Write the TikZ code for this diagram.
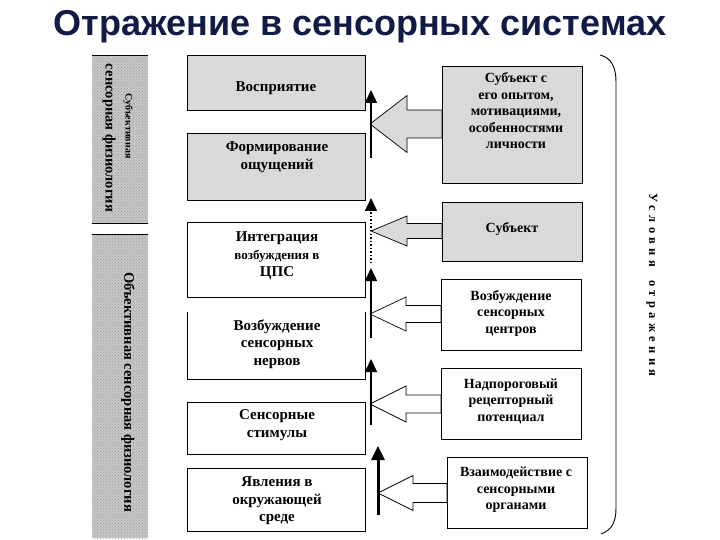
\documentclass[tikz,border=0pt]{standalone}
\usepackage{fontspec}
\setmainfont{Liberation Serif}
\newfontfamily\titlefont{Liberation Sans}
\usetikzlibrary{arrows.meta,patterns,calc}
\definecolor{titleblue}{RGB}{18,26,70}
\definecolor{boxgray}{RGB}{217,217,217}
\newcommand\blockarr[6]{%
 \draw[barrow,fill=#6] (#1) -- ++(#5,-#3) -- ++(0,{#3-#4}) -- ($(#1 -| #2.west)+(0,-#4)$) -- ($(#1 -| #2.west)+(0,#4)$) -- ($(#1)+(#5,#4)$) -- ($(#1)+(#5,#3)$) -- cycle;}
\begin{document}
\begin{tikzpicture}[x=1pt,y=-1pt,
  lbox/.style={draw=black,line width=0.8pt,anchor=north west,minimum width=178pt,inner sep=0pt},
  rbox/.style={draw=black,line width=0.8pt,anchor=north west,minimum width=140pt,inner sep=0pt},
  ltext/.style={align=center,font=\bfseries\fontsize{15}{17.5}\selectfont,inner sep=0pt},
  rtext/.style={align=center,font=\bfseries\fontsize{14}{16.5}\selectfont,inner sep=0pt},
  barrow/.style={draw=black,line width=0.7pt,line join=miter},
  varrow/.style={line width=1.5pt,-{Triangle[length=13pt,width=12pt]}},
  band/.style={fill=black!22,postaction={pattern=crosshatch dots,pattern color=black!40}},
  bandtext/.style={rotate=-90,font=\bfseries,inner sep=0pt}]
\useasboundingbox (0,0) rectangle (720,540);
\fill[white] (0,0) rectangle (720,540);

% title
\node[font=\titlefont\bfseries\fontsize{36}{40}\selectfont,text=titleblue] (title) at (360,27) {Отражение в сенсорных системах};

% left bands
\path[band] (92,55) rectangle (148,223);
\path[band] (92,234) rectangle (148,538);
\coordinate (bt1) at (92,55); \coordinate (bt2) at (148,55);
\coordinate (bb1) at (92,223); \coordinate (bb2) at (148,223);
\coordinate (bl1) at (92,234); \coordinate (bl2) at (148,234);
\draw[line width=0.8pt] (bt1) -- (bt2);
\draw[line width=0.8pt] (bb1) -- (bb2);
\draw[line width=0.8pt] (bl1) -- (bl2);
\node[bandtext,font=\bfseries\fontsize{10}{12}\selectfont] (sub1) at (128,126) {Субъективная};
\node[bandtext,font=\bfseries\fontsize{14.5}{16}\selectfont] (sub2) at (109,138) {сенсорная физиология};
\node[bandtext,font=\bfseries\fontsize{14.5}{16}\selectfont] (obj) at (128,392) {Объективная сенсорная физиология};

% left boxes
\node[lbox,fill=boxgray,minimum height=55pt] (b1) at (187,55) {};
\node[lbox,fill=boxgray,minimum height=67pt] (b2) at (187,133) {};
\node[lbox,minimum height=75pt] (b3) at (187,222) {};
\node[lbox,draw=none,minimum height=67pt] (b4) at (187,312) {};
\draw[line width=0.8pt] (b4.north west) -- (b4.south west) -- (b4.south east) -- (b4.north east);
\node[lbox,minimum height=52pt] (b5) at (187,402) {};
\node[lbox,minimum height=63pt] (b6) at (187,468) {};

\node[ltext] (t1) at (276,88) {Восприятие};
\node[ltext] (t2) at (277,157) {Формирование\\ощущений};
\node[ltext] (t3) at (277,256) {Интеграция\\{\fontsize{13}{17.5}\selectfont возбуждения в}\\ЦПС};
\node[ltext] (t4) at (277,344) {Возбуждение\\сенсорных\\нервов};
\node[ltext] (t5) at (277,425) {Сенсорные\\стимулы};
\node[ltext] (t6) at (277,501) {Явления в\\окружающей\\среде};

% right boxes
\node[rbox,fill=boxgray,minimum height=117pt] (r1) at (442,66) {};
\node[rbox,fill=boxgray,minimum height=59pt] (r2) at (442,202) {};
\node[rbox,minimum height=71pt] (r3) at (441,279) {};
\node[rbox,minimum height=71pt] (r4) at (441,368) {};
\node[rbox,minimum height=71pt] (r5) at (447,457) {};

\node[rtext] (s1) at (516,111) {Субъект с\\его опытом,\\мотивациями,\\особенностями\\личности};
\node[rtext] (s2) at (512,229) {Субъект};
\node[rtext] (s3) at (511,313) {Возбуждение\\сенсорных\\центров};
\node[rtext] (s4) at (511,401) {Надпороговый\\рецепторный\\потенциал};
\node[rtext] (s5) at (516,490) {Взаимодействие с\\сенсорными\\органами};

% block arrows
\coordinate (a1) at (370,124);
\coordinate (a2) at (371,231);
\coordinate (a3) at (370,314);
\coordinate (a4) at (370,404);
\coordinate (a5) at (378,493);
\blockarr{a1}{r1}{28.5}{14}{37}{boxgray}
\blockarr{a2}{r2}{15}{7.5}{36}{boxgray}
\blockarr{a3}{r3}{17}{8.5}{36}{white}
\blockarr{a4}{r4}{18}{9}{36}{white}
\blockarr{a5}{r5}{17.5}{9.5}{35}{white}

% vertical arrows
\coordinate (v1s) at (371,158); \coordinate (v1e) at (371,90);
\coordinate (v2s) at (371,263); \coordinate (v2e) at (371,198);
\coordinate (v3s) at (371,338); \coordinate (v3e) at (371,268);
\coordinate (v4s) at (371,425); \coordinate (v4e) at (371,359);
\coordinate (v5s) at (378,515); \coordinate (v5e) at (378,446);
\draw[varrow] (v1s) -- (v1e);
\draw[varrow,dash pattern=on 1.5pt off 2pt] (v2s) -- (v2e);
\draw[varrow] (v3s) -- (v3e);
\draw[varrow] (v4s) -- (v4e);
\draw[varrow,line width=3pt,-{Triangle[length=14pt,width=13pt]}] (v5s) -- (v5e);

% right bracket
\coordinate (k1) at (600,55);
\coordinate (k2) at (616,82);
\coordinate (k3) at (616,508);
\coordinate (k4) at (601,534);
\draw[line width=0.9pt] (k1) .. controls (612,58) and (616,68) .. (k2) -- (k3) .. controls (616,522) and (612,530) .. (k4);
\node[rotate=-90,font=\bfseries\fontsize{12.5}{14}\selectfont\addfontfeatures{LetterSpace=35},inner sep=0pt] (cond) at (652,285) {Условия\hspace{6pt} отражения};
\end{tikzpicture}
\end{document}
